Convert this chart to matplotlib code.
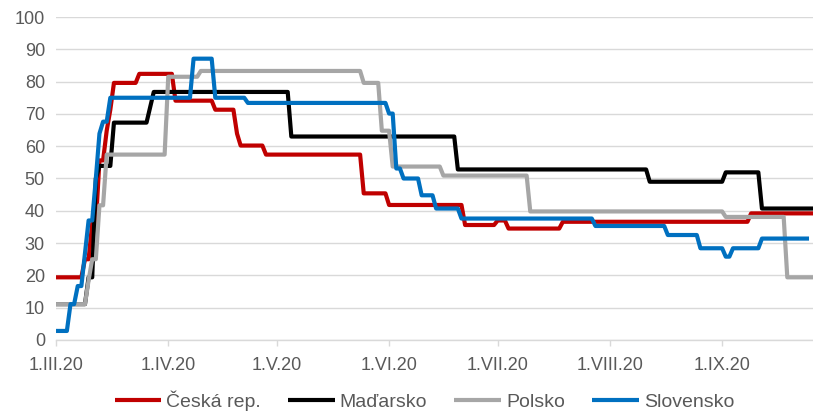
import matplotlib
matplotlib.use("Agg")
import matplotlib.pyplot as plt
import pandas as pd

# Stringency of measures, change points (date, new value)
cz_dates = ["2020-03-01", "2020-03-09", "2020-03-11", "2020-03-13", "2020-03-15", "2020-03-16",
            "2020-03-17", "2020-03-24", "2020-04-03", "2020-04-14", "2020-04-20", "2020-04-21",
            "2020-04-28", "2020-05-25", "2020-06-01", "2020-06-22", "2020-07-01", "2020-07-04",
            "2020-07-19", "2020-09-09"]
cz_vals = [19.4, 25.0, 36.1, 55.6, 64.8, 71.3, 79.6, 82.4, 74.1, 71.3, 63.9, 60.2,
           57.4, 45.4, 41.8, 35.6, 37.0, 34.5, 36.6, 39.2]

hu_dates = ["2020-03-01", "2020-03-10", "2020-03-12", "2020-03-13", "2020-03-17", "2020-03-27",
            "2020-03-28", "2020-05-05", "2020-06-20", "2020-08-12", "2020-09-02", "2020-09-12"]
hu_vals = [11.1, 19.4, 50.0, 53.9, 67.3, 72.0, 76.8, 63.0, 52.8, 49.0, 51.9, 40.7]

pl_dates = ["2020-03-01", "2020-03-10", "2020-03-11", "2020-03-13", "2020-03-15", "2020-04-01",
            "2020-04-10", "2020-05-25", "2020-05-30", "2020-06-02", "2020-06-16", "2020-07-10",
            "2020-09-02", "2020-09-19"]
pl_vals = [11.1, 18.5, 25.0, 41.7, 57.4, 81.5, 83.3, 79.6, 64.8, 53.7, 50.9, 39.8, 38.1, 19.4]

sk_dates = ["2020-03-01", "2020-03-05", "2020-03-07", "2020-03-09", "2020-03-10", "2020-03-12",
            "2020-03-13", "2020-03-14", "2020-03-16", "2020-04-08", "2020-04-14", "2020-04-23",
            "2020-06-01", "2020-06-03", "2020-06-05", "2020-06-10", "2020-06-14", "2020-06-21",
            "2020-07-28", "2020-08-17", "2020-08-26", "2020-09-02", "2020-09-04", "2020-09-12"]
sk_vals = [2.8, 11.1, 16.7, 27.0, 37.0, 50.0, 63.9, 67.6, 75.0, 87.1, 75.0, 73.4,
           70.1, 53.1, 50.0, 44.8, 40.7, 37.6, 35.3, 32.5, 28.4, 25.8, 28.4, 31.4]

series_names = ["Česká rep.", "Maďarsko", "Polsko", "Slovensko"]
series_colors = ["#C00000", "#000000", "#A6A6A6", "#0070C0"]
series_end = ["2020-09-30", "2020-09-30", "2020-09-30", "2020-09-25"]

tick_dates = ["2020-03-01", "2020-04-01", "2020-05-01", "2020-06-01",
              "2020-07-01", "2020-08-01", "2020-09-01"]
tick_labels = ["1.III.20", "1.IV.20", "1.V.20", "1.VI.20", "1.VII.20", "1.VIII.20", "1.IX.20"]


def daily(dates, vals, end):
    s = pd.Series(vals, index=pd.to_datetime(dates))
    days = pd.date_range(dates[0], end, freq="D")
    return s.reindex(days, method="ffill")


plt.rcParams["font.family"] = ["Liberation Sans", "DejaVu Sans"]
text_color = "#595959"
grid_color = "#D9D9D9"

fig = plt.figure(figsize=(8.13, 4.13), dpi=100)
ax = fig.add_axes([0.0689, 0.1768, 0.9311, 0.782])

all_data = [(cz_dates, cz_vals), (hu_dates, hu_vals), (pl_dates, pl_vals), (sk_dates, sk_vals)]
for (d, v), name, col, end in zip(all_data, series_names, series_colors, series_end):
    s = daily(d, v, end)
    ax.plot(s.index, s.values, color=col, lw=3.0, label=name,
            solid_joinstyle="round", solid_capstyle="butt")

start = pd.Timestamp("2020-03-01")
ax.set_xlim(start, start + pd.Timedelta(days=209.1))
ax.set_ylim(0, 100)
ax.set_yticks(range(0, 101, 10))
ax.set_xticks(pd.to_datetime(tick_dates))
ax.set_xticklabels(tick_labels)

ax.grid(axis="y", color=grid_color, lw=1.0)
ax.set_axisbelow(True)
for sp in ["top", "right", "left"]:
    ax.spines[sp].set_visible(False)
ax.spines["bottom"].set_color(grid_color)
ax.spines["bottom"].set_linewidth(1.0)

ax.tick_params(axis="y", length=0, pad=8, labelsize=13, labelcolor=text_color)
ax.tick_params(axis="x", length=4, width=1.0, color=grid_color, pad=8,
               labelsize=13, labelcolor=text_color)

leg = fig.legend(loc="center", bbox_to_anchor=(0.522, 0.03), ncol=4, frameon=False,
                 fontsize=14, handlelength=2.4, handletextpad=0.25, columnspacing=1.4,
                 labelcolor=text_color, borderpad=0.1)

fig.savefig("out.png", dpi=100)
